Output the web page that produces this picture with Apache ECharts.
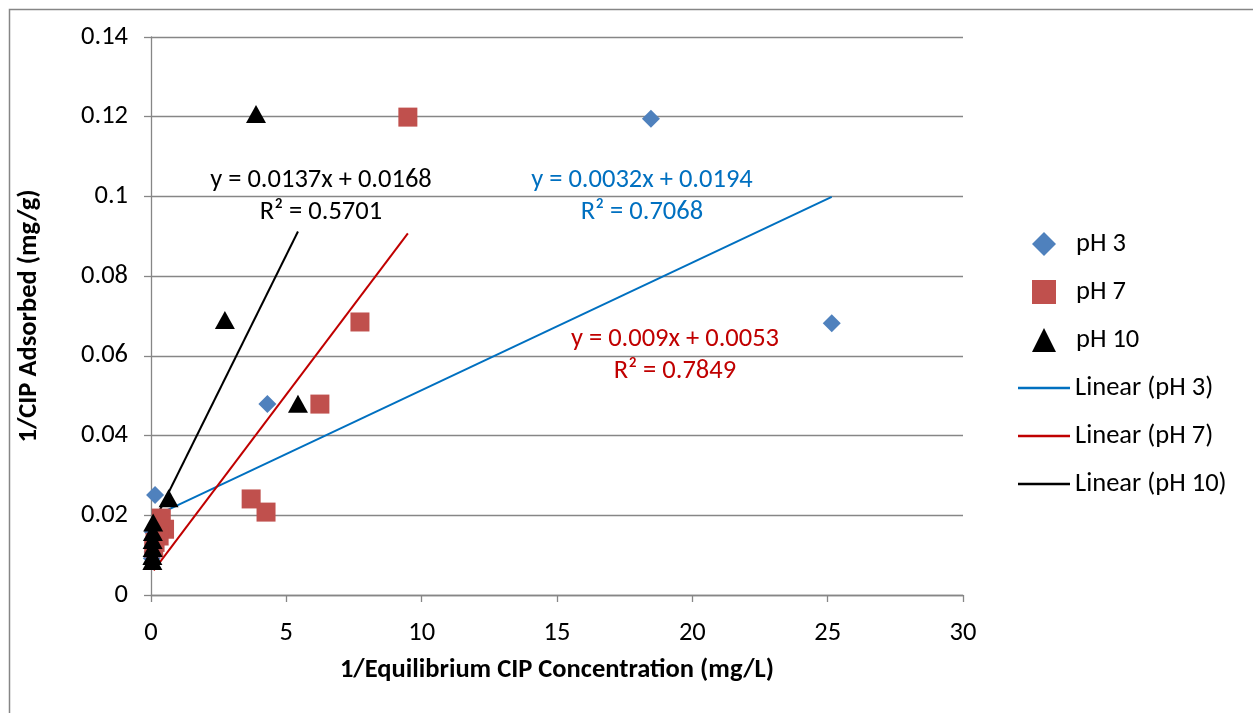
<!DOCTYPE html>
<html><head><meta charset="utf-8">
<script src="https://cdn.jsdelivr.net/npm/echarts@6/dist/echarts.min.js"></script>
<style>html,body{margin:0;padding:0;background:#fff}#c{width:1253px;height:713px}</style>
</head><body><div id="c"></div>
<script>
const FONT = 'Carlito, Lato, "Open Sans", sans-serif';
const xTicks = [0, 5, 10, 15, 20, 25, 30];
const yTicks = [0, 0.02, 0.04, 0.06, 0.08, 0.1, 0.12, 0.14];
const ph3 = [[25.15, 0.0682], [18.47, 0.1195], [4.3, 0.0479], [0.15, 0.0251], [0.07, 0.0158], [0.06, 0.0108], [0.03, 0.0092]];
const ph7 = [[9.49, 0.1199], [7.72, 0.0685], [6.24, 0.0479], [3.7, 0.0241], [4.25, 0.0208], [0.38, 0.0193], [0.5, 0.0165], [0.3, 0.0148], [0.15, 0.0132], [0.1, 0.0118]];
const ph10 = [[3.88, 0.1207], [2.73, 0.069], [5.43, 0.048], [0.65, 0.0243], [0.08, 0.0182], [0.07, 0.0158], [0.06, 0.0138], [0.06, 0.0118], [0.05, 0.0098], [0.05, 0.0085]];
// trendline coefficients as printed on the chart [slope, intercept, R2]
const fit3 = [0.0032, 0.0194, 0.7068];
const fit7 = [0.009, 0.0053, 0.7849];
const fit10 = [0.0137, 0.0168, 0.5701];
const scatterNames = ['pH 3', 'pH 7', 'pH 10'];
const lineNames = ['Linear (pH 3)', 'Linear (pH 7)', 'Linear (pH 10)'];

function trend(data, fit) {
  const xs = data.map(d => d[0]);
  const a = Math.min(...xs), b = Math.max(...xs);
  return [[a, fit[0] * a + fit[1]], [b, fit[0] * b + fit[1]]];
}
function eqText(fit) { return 'y = ' + fit[0] + 'x + ' + fit[1]; }

const chart = echarts.init(document.getElementById('c'), null, {renderer: 'canvas'});
const gridColor = '#868686';
const FS = 26.5;
const txt = (x, y, s, c) => ({type: 'text', x: x, y: y, z: 10,
  style: {text: s, font: FS + 'px ' + FONT, fill: c, align: 'center', verticalAlign: 'middle'}});
chart.setOption({
  animation: false,
  backgroundColor: '#fff',
  textStyle: {fontFamily: FONT},
  grid: {left: 151, top: 37, width: 812, height: 558, containLabel: false},
  xAxis: {
    type: 'value', min: 0, max: 30, interval: 5,
    name: '1/Equilibrium CIP Concentration (mg/L)', nameLocation: 'middle', nameGap: 62,
    nameTextStyle: {fontFamily: FONT, fontSize: 26.5, fontWeight: 'bold', color: '#000'},
    axisLine: {show: true, onZero: false, lineStyle: {color: gridColor, width: 1.3}},
    axisTick: {show: true, length: 7, lineStyle: {color: gridColor, width: 1.3}},
    axisLabel: {fontFamily: FONT, fontSize: FS, color: '#000', margin: 25,
      formatter: v => xTicks.includes(v) ? String(v) : ''},
    splitLine: {show: false}
  },
  yAxis: {
    type: 'value', min: 0, max: 0.14, interval: 0.02,
    name: '1/CIP Adsorbed (mg/g)', nameLocation: 'middle', nameGap: 108, nameRotate: 90,
    nameTextStyle: {fontFamily: FONT, fontSize: 26.5, fontWeight: 'bold', color: '#000'},
    axisLine: {show: true, onZero: false, lineStyle: {color: gridColor, width: 1.3}},
    axisTick: {show: true, length: 7, lineStyle: {color: gridColor, width: 1.3}},
    axisLabel: {fontFamily: FONT, fontSize: FS, color: '#000', margin: 23,
      formatter: v => { const t = yTicks.find(k => Math.abs(k - v) < 1e-9); return t === undefined ? '' : String(t); }},
    splitLine: {show: true, lineStyle: {color: gridColor, width: 1.3}}
  },
  legend: [
    {orient: 'vertical', left: 1027, top: 224, itemWidth: 24, itemHeight: 24, itemGap: 18,
     textStyle: {fontFamily: FONT, fontSize: FS, color: '#000', lineHeight: 30, padding: [0, 0, 0, 15]},
     data: scatterNames},
    {orient: 'vertical', left: 1013, top: 368, itemWidth: 52, itemHeight: 2.5, itemGap: 18,
     textStyle: {fontFamily: FONT, fontSize: FS, color: '#000', lineHeight: 30},
     data: lineNames.map(n => ({name: n, icon: 'rect'}))}
  ],
  series: [
    {name: lineNames[0], type: 'line', data: trend(ph3, fit3), symbol: 'none', lineStyle: {color: '#0070C0', width: 2}, itemStyle: {color: '#0070C0'}, z: 2},
    {name: lineNames[1], type: 'line', data: trend(ph7, fit7), symbol: 'none', lineStyle: {color: '#C00000', width: 2}, itemStyle: {color: '#C00000'}, z: 2},
    {name: lineNames[2], type: 'line', data: trend(ph10, fit10), symbol: 'none', lineStyle: {color: '#000', width: 2}, itemStyle: {color: '#000'}, z: 2},
    {name: scatterNames[0], type: 'scatter', data: ph3, symbol: 'diamond', symbolSize: [18, 18], itemStyle: {color: '#4F81BD', opacity: 1}, z: 3},
    {name: scatterNames[1], type: 'scatter', data: ph7, symbol: 'rect', symbolSize: [19, 19], itemStyle: {color: '#C0504D', opacity: 1}, z: 4},
    {name: scatterNames[2], type: 'scatter', data: ph10, symbol: 'triangle', symbolSize: [20, 18], itemStyle: {color: '#000', opacity: 1}, z: 5}
  ],
  graphic: [
    {type: 'rect', left: 7, top: 7, shape: {width: 1270, height: 730}, style: {fill: 'none', stroke: '#868686', lineWidth: 1.5}, z: -1},
    txt(321, 180, eqText(fit10), '#000'),
    txt(321, 212, 'R² = ' + fit10[2], '#000'),
    txt(642, 180, eqText(fit3), '#0070C0'),
    txt(642, 212, 'R² = ' + fit3[2], '#0070C0'),
    txt(675, 339, eqText(fit7), '#C00000'),
    txt(675, 371, 'R² = ' + fit7[2], '#C00000')
  ]
});
</script></body></html>
